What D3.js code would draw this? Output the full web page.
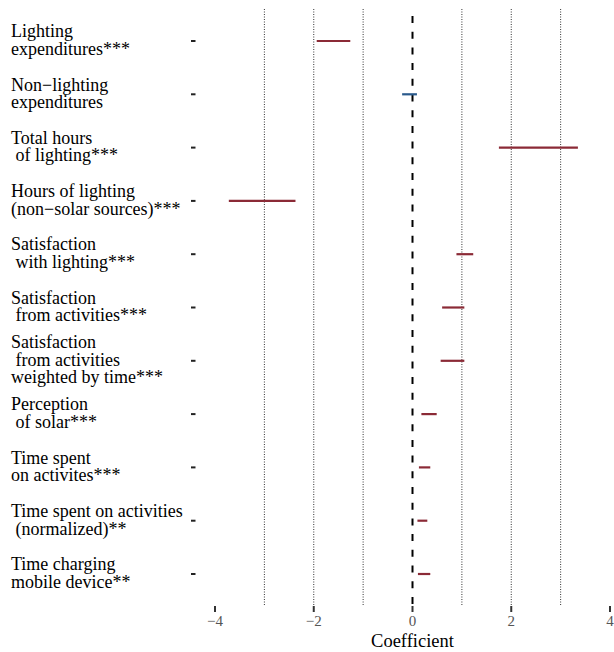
<!DOCTYPE html>
<html>
<head>
<meta charset="utf-8">
<script src="https://cdn.jsdelivr.net/npm/d3@7"></script>
<style>
  body { margin: 0; background: #fff; }
  text { white-space: pre; }
</style>
</head>
<body>
<svg id="chart" width="614" height="652" font-family="'Liberation Serif', 'Times New Roman', Times, serif"></svg>
<script>
// outcome labels (lines of each label)
const labels = [
  ["Lighting", "expenditures***"],
  ["Non\u2212lighting", "expenditures"],
  ["Total hours", " of lighting***"],
  ["Hours of lighting", "(non\u2212solar sources)***"],
  ["Satisfaction", " with lighting***"],
  ["Satisfaction", " from activities***"],
  ["Satisfaction", " from activities", "weighted by time***"],
  ["Perception", " of solar***"],
  ["Time spent", "on activites***"],
  ["Time spent on activities", " (normalized)**"],
  ["Time charging", "mobile device**"]
]
// confidence interval ends
const lower = [-1.94, -0.21, 1.75, -3.72, 0.89, 0.60, 0.57, 0.18, 0.13, 0.10, 0.11]
const upper = [-1.26, 0.09, 3.35, -2.37, 1.23, 1.05, 1.05, 0.49, 0.36, 0.30, 0.36]
const significant = [true, false, true, true, true, true, true, true, true, true, true]
const xTicks = [-4, -2, 0, 2, 4]
const gridVals = [-3, -2, -1, 1, 2, 3]

const svg = d3.select("#chart")
const x = d3.scaleLinear().domain([-4, 4]).range([215, 610])
const y = d3.scalePoint().domain(d3.range(labels.length)).range([41, 574])

// dotted grid lines
svg.append("g").selectAll("line").data(gridVals).join("line")
  .attr("x1", d => x(d)).attr("x2", d => x(d))
  .attr("y1", 9).attr("y2", 605)
  .attr("stroke", "#333").attr("stroke-width", 1).attr("stroke-dasharray", "1,1.5")

// zero line
svg.append("line")
  .attr("x1", x(0)).attr("x2", x(0)).attr("y1", 16).attr("y2", 610)
  .attr("stroke", "#000").attr("stroke-width", 2).attr("stroke-dasharray", "7,8.7")

// intervals
svg.append("g").selectAll("line").data(labels).join("line")
  .attr("x1", (d, i) => x(lower[i])).attr("x2", (d, i) => x(upper[i]))
  .attr("y1", (d, i) => y(i)).attr("y2", (d, i) => y(i))
  .attr("stroke", (d, i) => significant[i] ? "#8b2a36" : "#2a5a8c")
  .attr("stroke-width", 2.2)

// y ticks
svg.append("g").selectAll("line").data(labels).join("line")
  .attr("x1", 191).attr("x2", 195.5)
  .attr("y1", (d, i) => y(i)).attr("y2", (d, i) => y(i))
  .attr("stroke", "#222").attr("stroke-width", 2)

// y labels
const lh = 17.6
svg.append("g").selectAll("text").data(labels).join("text")
  .attr("font-size", 18).attr("fill", "#000")
  .each(function(d, i) {
    const t = d3.select(this)
    const top = y(i) - (d.length - 1) * lh / 2 + 5
    d.forEach((s, j) => {
      t.append("tspan").attr("x", 11).attr("y", top + j * lh).text(s)
    })
  })

// x axis ticks
svg.append("g").selectAll("line").data(xTicks).join("line")
  .attr("x1", d => x(d)).attr("x2", d => x(d))
  .attr("y1", 606).attr("y2", 612)
  .attr("stroke", "#333").attr("stroke-width", 2)

svg.append("g").selectAll("text").data(xTicks).join("text")
  .attr("x", d => x(d)).attr("y", 626)
  .attr("text-anchor", "middle").attr("font-size", 15).attr("fill", "#555")
  .text(d => d < 0 ? "\u2212" + Math.abs(d) : d)

svg.append("text").attr("x", x(0)).attr("y", 647)
  .attr("text-anchor", "middle").attr("font-size", 18.5).attr("fill", "#000")
  .text("Coefficient")
</script>
</body>
</html>
